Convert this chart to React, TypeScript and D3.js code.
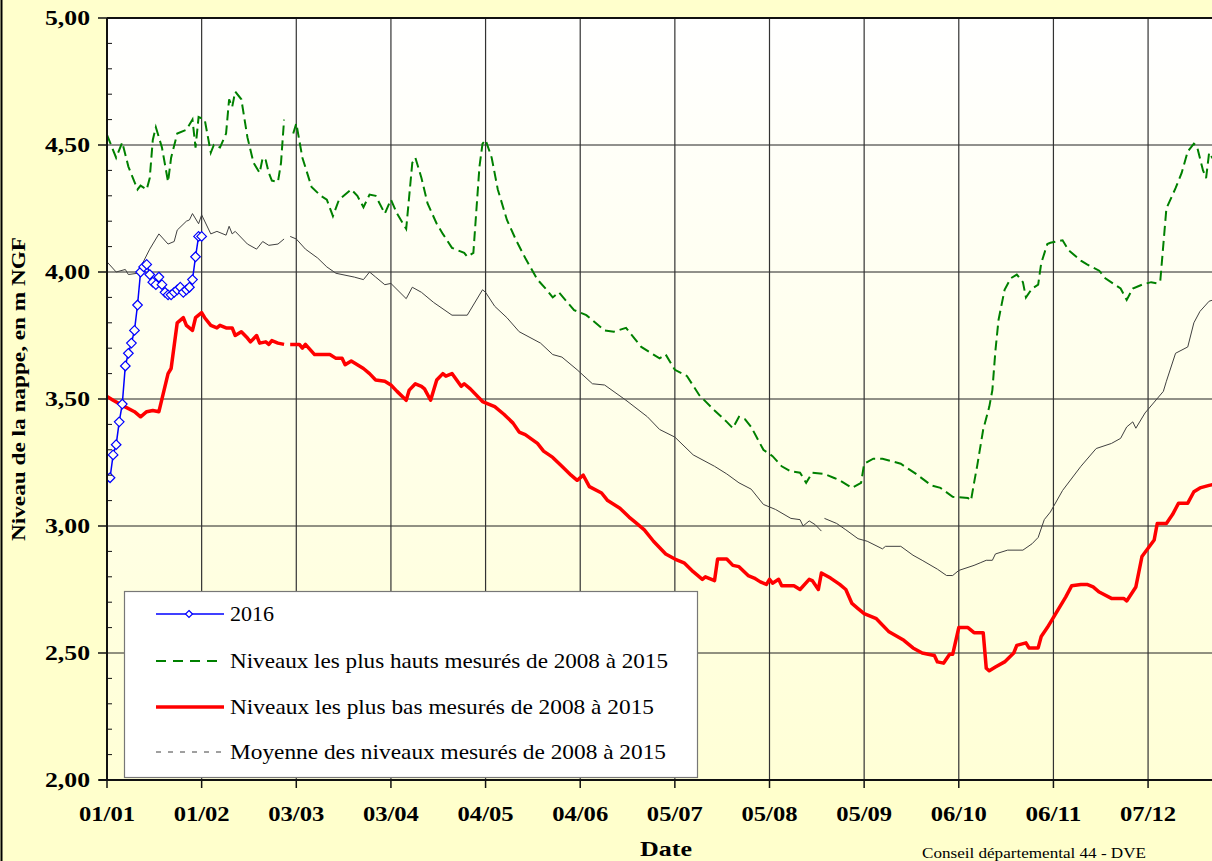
import React from 'react';
import * as d3 from 'd3';

// day of year (2016) -> level in m NGF
const level2016: [number, number][] = [
  [0, 3.19], [1, 3.19], [2, 3.28], [3, 3.32], [4, 3.41], [5, 3.48], [6, 3.63], [7, 3.68],
  [8, 3.72], [9, 3.77], [10, 3.87], [11, 4.0], [12, 4.02], [13, 4.03], [14, 3.99], [15, 3.96],
  [16, 3.95], [17, 3.98], [18, 3.95], [19, 3.92], [20, 3.91], [21, 3.91], [22, 3.92], [23, 3.93],
  [24, 3.94], [25, 3.92], [26, 3.93], [27, 3.94], [28, 3.97], [29, 4.06], [30, 4.14], [31, 4.14],
];

const levelHigh: [number, number][] = [
  [0, 4.54], [3, 4.45], [5, 4.51], [7, 4.415], [10, 4.325], [11, 4.34], [13, 4.325], [14, 4.37],
  [15, 4.52], [16, 4.57], [18, 4.49], [20, 4.355], [21, 4.45], [23, 4.545], [26, 4.56], [28, 4.6],
  [29, 4.49], [30, 4.61], [32, 4.6], [34, 4.47], [35, 4.5], [37, 4.49], [39, 4.545], [40, 4.68],
  [41, 4.65], [42, 4.71], [44, 4.68], [46, 4.53], [48, 4.43], [50, 4.39], [51, 4.45], [52, 4.44],
  [53, 4.39], [54, 4.36], [56, 4.355], [57, 4.43], [58, 4.6], [59, NaN], [61, 4.545], [62, 4.585],
  [64, 4.45], [67, 4.335], [70, 4.3], [72, 4.285], [74, 4.22], [76, 4.285], [80, 4.325], [82, 4.3],
  [84, 4.255], [86, 4.305], [88, 4.3], [91, 4.23], [93, 4.285], [95, 4.23], [98, 4.17], [100, 4.43],
  [101, 4.45], [103, 4.37], [105, 4.27], [108, 4.19], [110, 4.15], [113, 4.095], [117, 4.075],
  [118, 4.06], [120, 4.075], [122, 4.415], [123, 4.505], [124, 4.52], [126, 4.45], [128, 4.325],
  [131, 4.205], [134, 4.125], [137, 4.055], [141, 3.97], [144, 3.93], [146, 3.9], [148, 3.92],
  [153, 3.85], [157, 3.83], [163, 3.77], [166, 3.765], [170, 3.78], [175, 3.705], [179, 3.675],
  [181, 3.66], [183, 3.675], [186, 3.615], [190, 3.59], [194, 3.515], [199, 3.455], [203, 3.41],
  [205, 3.385], [207, 3.43], [209, 3.42], [211, 3.39], [215, 3.3], [218, 3.275], [221, 3.235],
  [224, 3.215], [227, 3.21], [229, 3.17], [231, 3.21], [235, 3.205], [238, 3.19], [240, 3.18],
  [244, 3.15], [247, 3.17], [248, 3.245], [251, 3.265], [254, 3.265], [260, 3.245], [265, 3.205],
  [270, 3.16], [273, 3.15], [277, 3.115], [282, 3.11], [283, 3.1], [284, 3.17], [285, 3.235],
  [287, 3.38], [289, 3.47], [290, 3.535], [291, 3.69], [292, 3.81], [294, 3.93], [296, 3.975],
  [298, 3.99], [300, 3.96], [301, 3.9], [303, 3.935], [305, 3.95], [306, 4.035], [308, 4.11],
  [309, 4.115], [313, 4.125], [315, 4.085], [319, 4.045], [321, 4.03], [325, 4.005], [327, 3.975],
  [332, 3.935], [334, 3.89], [336, 3.935], [339, 3.95], [342, 3.96], [344, 3.955], [345, 3.965],
  [347, 4.25], [350, 4.33], [352, 4.39], [354, 4.475], [356, 4.505], [357, 4.495], [359, 4.4],
  [360, 4.37], [361, 4.47], [362, 4.45], [365, 4.46],
];

const levelLow: [number, number][] = [
  [0, 3.51], [2, 3.495], [5, 3.475], [9, 3.45], [11, 3.43], [13, 3.45], [15, 3.455], [17, 3.45],
  [20, 3.6], [21, 3.62], [23, 3.8], [25, 3.82], [26, 3.79], [28, 3.77], [29, 3.82], [31, 3.84],
  [32, 3.82], [34, 3.79], [36, 3.78], [37, 3.79], [39, 3.78], [41, 3.78], [42, 3.75], [44, 3.765],
  [46, 3.74], [47, 3.725], [49, 3.75], [50, 3.72], [52, 3.725], [53, 3.715], [54, 3.73], [56, 3.72],
  [58, 3.715], [59, NaN], [60, 3.715], [63, 3.715], [64, 3.7], [65, 3.715], [68, 3.675], [73, 3.675],
  [75, 3.66], [77, 3.66], [78, 3.635], [80, 3.65], [84, 3.62], [86, 3.6], [88, 3.575], [91, 3.57],
  [93, 3.555], [95, 3.53], [98, 3.495], [99, 3.535], [101, 3.56], [103, 3.55], [104, 3.54],
  [106, 3.495], [108, 3.575], [110, 3.6], [111, 3.59], [113, 3.6], [116, 3.55], [117, 3.56],
  [119, 3.54], [123, 3.49], [127, 3.47], [130, 3.44], [133, 3.405], [135, 3.37], [137, 3.36],
  [141, 3.325], [143, 3.295], [146, 3.27], [149, 3.235], [152, 3.2], [154, 3.18], [156, 3.2],
  [158, 3.155], [162, 3.13], [164, 3.1], [168, 3.07], [171, 3.035], [173, 3.015], [176, 2.985],
  [179, 2.94], [183, 2.89], [186, 2.87], [189, 2.855], [192, 2.82], [195, 2.79], [196, 2.8],
  [199, 2.785], [200, 2.87], [203, 2.87], [205, 2.845], [207, 2.84], [210, 2.805], [212, 2.795],
  [214, 2.78], [216, 2.77], [217, 2.79], [218, 2.775], [220, 2.79], [221, 2.765], [225, 2.765],
  [227, 2.75], [230, 2.79], [231, 2.785], [233, 2.75], [234, 2.815], [237, 2.795], [240, 2.77],
  [242, 2.75], [244, 2.695], [246, 2.675], [248, 2.655], [252, 2.635], [256, 2.585], [261, 2.55],
  [264, 2.52], [267, 2.5], [271, 2.49], [272, 2.465], [274, 2.46], [276, 2.495], [277, 2.495],
  [279, 2.6], [282, 2.6], [284, 2.58], [287, 2.58], [288, 2.44], [289, 2.43], [291, 2.445],
  [294, 2.465], [297, 2.5], [298, 2.53], [301, 2.54], [302, 2.52], [305, 2.52], [306, 2.565],
  [308, 2.6], [311, 2.66], [314, 2.72], [316, 2.765], [319, 2.77], [321, 2.77], [323, 2.76],
  [325, 2.74], [329, 2.715], [333, 2.715], [334, 2.705], [337, 2.76], [339, 2.88], [343, 2.945],
  [344, 3.01], [347, 3.01], [349, 3.045], [351, 3.09], [354, 3.09], [356, 3.135], [358, 3.15],
  [361, 3.16], [365, 3.17],
];

const levelMean: [number, number][] = [
  [0, 4.04], [3, 4.0], [6, 4.01], [7, 3.99], [10, 3.995], [14, 4.09], [17, 4.15], [20, 4.11],
  [22, 4.12], [23, 4.165], [26, 4.2], [27, 4.205], [28, 4.23], [30, 4.19], [31, 4.225], [34, 4.15],
  [36, 4.16], [39, 4.145], [40, 4.18], [41, 4.15], [42, 4.16], [46, 4.11], [49, 4.09], [51, 4.12],
  [53, 4.105], [56, 4.11], [58, 4.13], [59, NaN], [60, 4.14], [62, 4.13], [65, 4.09], [69, 4.055],
  [72, 4.02], [75, 3.995], [81, 3.98], [84, 3.97], [86, 4.0], [88, 3.98], [91, 3.95], [93, 3.955],
  [98, 3.895], [100, 3.94], [103, 3.92], [107, 3.88], [113, 3.83], [118, 3.83], [119, 3.85],
  [123, 3.93], [124, 3.92], [127, 3.865], [131, 3.82], [135, 3.765], [142, 3.72], [146, 3.675],
  [149, 3.665], [154, 3.615], [159, 3.56], [163, 3.555], [170, 3.495], [177, 3.43], [181, 3.38],
  [186, 3.35], [192, 3.28], [199, 3.235], [203, 3.205], [207, 3.17], [211, 3.145], [212, 3.13],
  [215, 3.085], [219, 3.065], [224, 3.03], [227, 3.025], [228, 3.0], [230, 3.02], [232, 3.005],
  [234, 2.98], [234.5, NaN], [235, 3.03], [239, 3.01], [242, 2.985], [246, 2.95], [249, 2.94],
  [254, 2.91], [255, 2.92], [260, 2.92], [264, 2.885], [267, 2.865], [272, 2.83], [275, 2.805],
  [277, 2.805], [279, 2.825], [284, 2.845], [286, 2.855], [288, 2.865], [290, 2.865], [291, 2.89],
  [295, 2.905], [300, 2.905], [303, 2.93], [305, 2.955], [307, 3.025], [309, 3.055], [313, 3.14],
  [319, 3.235], [324, 3.305], [329, 3.325], [332, 3.345], [334, 3.39], [336, 3.41], [337, 3.385],
  [340, 3.445], [346, 3.53], [347, 3.57], [350, 3.68], [354, 3.705], [356, 3.8], [358, 3.845],
  [361, 3.885], [365, 3.9],
];

const tickDays = [0, 31, 62, 93, 124, 155, 186, 217, 248, 279, 310, 341];
const tickLabels = ['01/01', '01/02', '03/03', '03/04', '04/05', '04/06', '05/07', '05/08', '05/09', '06/10', '06/11', '07/12'];
const yMajor = [2, 2.5, 3, 3.5, 4, 4.5, 5];

const legendItems = [
  { key: 'y2016', label: '2016', len: 44 },
  { key: 'high', label: 'Niveaux les plus hauts mesurés de 2008 à 2015', len: 438 },
  { key: 'low', label: 'Niveaux les plus bas mesurés de 2008 à 2015', len: 424 },
  { key: 'mean', label: 'Moyenne des niveaux mesurés de 2008 à 2015', len: 436 },
];

const W = 1212;
const H = 861;
const left = 107;
const top = 18;
const bottom = 780;

export default function App() {
  const x = d3.scaleLinear().domain([0, 366]).range([left, left + 366 * 3.053]);
  const y = d3.scaleLinear().domain([2, 5]).range([bottom, top]);
  const right = x(366);

  const line = d3
    .line<[number, number]>()
    .defined((d) => !isNaN(d[1]))
    .x((d) => x(d[0]))
    .y((d) => y(d[1]));

  const fmt = (v: number) => d3.format('.2f')(v).replace('.', ',');
  const minor = d3.range(2, 5.001, 0.1).filter((v) => Math.abs(v * 2 - Math.round(v * 2)) > 0.01);
  const diamond = (cx: number, cy: number, r: number) =>
    `M${cx},${cy - r}L${cx + r},${cy}L${cx},${cy + r}L${cx - r},${cy}Z`;

  const serif = '"Liberation Serif", "Times New Roman", serif';
  const legY = [614, 661, 707, 752];

  return (
    <svg
      width={W}
      height={H}
      style={{ position: 'absolute', left: 0, top: 0, background: '#FFFFCC' }}
      fontFamily={serif}
    >
      <defs>
        <linearGradient id="plotBg" x1="0" y1="0" x2="0" y2="1">
          <stop offset="0%" stopColor="#FFFFFF" />
          <stop offset="100%" stopColor="#FFFFD6" />
        </linearGradient>
        <clipPath id="plotClip">
          <rect x={left} y={top} width={right - left} height={bottom - top} />
        </clipPath>
      </defs>
      <rect x={0} y={0} width={W} height={H} fill="#FFFFCC" />
      <line x1={1.5} x2={1.5} y1={0} y2={H} stroke="#000" strokeWidth={2} />

      <rect x={left} y={top} width={right - left} height={bottom - top} fill="url(#plotBg)" />

      {/* grid */}
      {yMajor.slice(1, -1).map((v) => (
        <line key={v} x1={left} x2={right} y1={y(v)} y2={y(v)} stroke="#222" strokeWidth={1} />
      ))}
      {tickDays.slice(1).map((d) => (
        <line key={d} x1={x(d)} x2={x(d)} y1={top} y2={bottom} stroke="#333" strokeWidth={1.2} />
      ))}

      {/* series */}
      <g clipPath="url(#plotClip)" fill="none">
        <path d={line(levelMean) || ''} stroke="#404040" strokeWidth={1} />
        <path d={line(levelHigh) || ''} stroke="#008000" strokeWidth={2} strokeDasharray="10,5" />
        <path d={line(levelLow) || ''} stroke="#FF0000" strokeWidth={3.5} strokeLinejoin="round" />
        <path d={line(level2016) || ''} stroke="#0000FF" strokeWidth={1.5} />
        {level2016.map((d) => (
          <path key={d[0]} d={diamond(x(d[0]), y(d[1]), 4.8)} fill="#FFFFF4" stroke="#0000FF" strokeWidth={1.2} />
        ))}
      </g>

      {/* frame & axes */}
      <line x1={left} x2={right} y1={top} y2={top} stroke="#111" strokeWidth={2} />
      <line x1={left} x2={left} y1={top} y2={bottom} stroke="#111" strokeWidth={2} />
      <line x1={left - 8} x2={right} y1={bottom} y2={bottom} stroke="#111" strokeWidth={2} />
      {yMajor.map((v) => (
        <g key={v}>
          <line x1={left - 9} x2={left} y1={y(v)} y2={y(v)} stroke="#111" strokeWidth={1.5} />
          <text
            x={90}
            y={y(v) + 7}
            textAnchor="end"
            fontSize={21}
            fontWeight="bold"
            textLength={45}
            lengthAdjust="spacingAndGlyphs"
          >
            {fmt(v)}
          </text>
        </g>
      ))}
      {minor.map((v) => (
        <line key={v} x1={left} x2={left + 5} y1={y(v)} y2={y(v)} stroke="#111" strokeWidth={1} />
      ))}
      {tickDays.map((d, i) => (
        <g key={d}>
          <line x1={x(d)} x2={x(d)} y1={bottom} y2={bottom + 8} stroke="#111" strokeWidth={1.5} />
          <text
            x={x(d)}
            y={821}
            textAnchor="middle"
            fontSize={21}
            fontWeight="bold"
            textLength={56}
            lengthAdjust="spacingAndGlyphs"
          >
            {tickLabels[i]}
          </text>
        </g>
      ))}

      <text
        transform="translate(25,389) rotate(-90)"
        textAnchor="middle"
        fontSize={18}
        fontWeight="bold"
        textLength={304}
        lengthAdjust="spacingAndGlyphs"
      >
        Niveau de la nappe, en m NGF
      </text>
      <text x={666} y={856} textAnchor="middle" fontSize={21} fontWeight="bold" textLength={52} lengthAdjust="spacingAndGlyphs">
        Date
      </text>
      <text x={922} y={858} fontSize={15} textLength={224} lengthAdjust="spacingAndGlyphs">
        Conseil départemental 44 - DVE
      </text>

      {/* legend */}
      <rect x={124.5} y={591.5} width={573} height={186} fill="#FFFFFF" stroke="#777" strokeWidth={1.2} />
      {legendItems.map((it, i) => {
        const ly = legY[i];
        return (
          <g key={it.key}>
            {it.key === 'y2016' && (
              <>
                <line x1={156} x2={224} y1={ly} y2={ly} stroke="#0000FF" strokeWidth={1.5} />
                <path d={diamond(189, ly, 3.5)} fill="#FFFFFF" stroke="#0000FF" strokeWidth={1.2} />
              </>
            )}
            {it.key === 'high' && (
              <line x1={156} x2={224} y1={ly} y2={ly} stroke="#008000" strokeWidth={2} strokeDasharray="10,7" />
            )}
            {it.key === 'low' && <line x1={156} x2={224} y1={ly} y2={ly} stroke="#FF0000" strokeWidth={3.5} />}
            {it.key === 'mean' && (
              <line x1={156} x2={224} y1={ly} y2={ly} stroke="#404040" strokeWidth={1} strokeDasharray="5,7" />
            )}
            <text x={230} y={ly + 7} fontSize={21} textLength={it.len} lengthAdjust="spacingAndGlyphs">
              {it.label}
            </text>
          </g>
        );
      })}
    </svg>
  );
}
